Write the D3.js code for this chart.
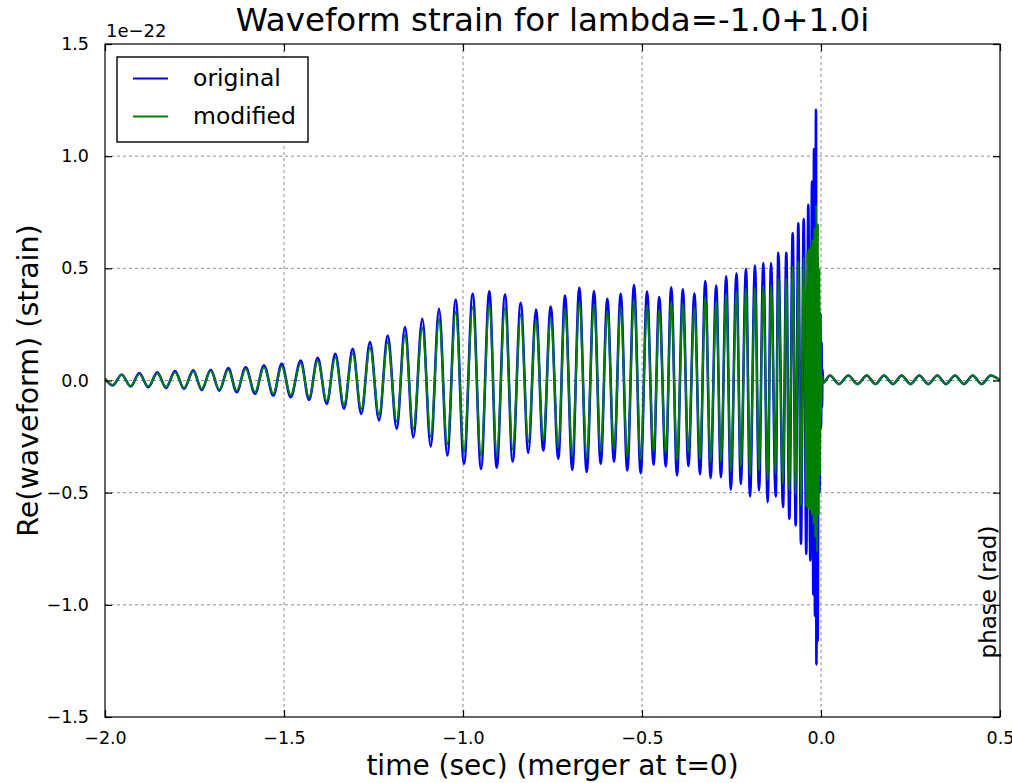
<!DOCTYPE html>
<html>
<head>
<meta charset="utf-8">
<script src="https://cdn.jsdelivr.net/npm/d3@7"></script>
<style>
  body { margin: 0; background: #fff; }
  text { font-family: "DejaVu Sans", sans-serif; fill: #000; }
</style>
</head>
<body>
<svg id="chart" width="1012" height="783"></svg>
<script>
// Strain extrema (units of 1e-22) against time in seconds, merger at t = 0.
// Inspiral: shared extremum times for both waveforms.
const inspiralTimes = [
  -2.0000,-1.9785,-1.9534,-1.9282,-1.9042,-1.8790,-1.8539,-1.8296,-1.8045,-1.7793,
  -1.7534,-1.7299,-1.7047,-1.6807,-1.6556,-1.6321,-1.6070,-1.5810,-1.5559,-1.5299,
  -1.5064,-1.4813,-1.4534,-1.4302,-1.4059,-1.3807,-1.3567,-1.3324,-1.3081,-1.2841,
  -1.2598,-1.2346,-1.2103,-1.1852,-1.1620,-1.1388,-1.1137,-1.0902,-1.0670,-1.0439,
  -1.0204,-0.9972,-0.9729,-0.9497,-0.9265,-0.9059,-0.8827,-0.8612,-0.8388,-0.8176,
  -0.7961,-0.7757,-0.7550,-0.7338,-0.7151,-0.6947,-0.6751,-0.6545,-0.6341,-0.6154,
  -0.5969,-0.5782,-0.5595,-0.5411,-0.5223,-0.5036,-0.4860,-0.4676,-0.4520,-0.4335,
  -0.4184,-0.4022,-0.3860,-0.3704,-0.3536,-0.3380,-0.3232,-0.3084,-0.2927,-0.2796,
  -0.2648,-0.2520,-0.2360,-0.2240,-0.2095,-0.1983,-0.1844,-0.1732,-0.1612,-0.1489,
  -0.1397,-0.1265,-0.1193,-0.1061,-0.0969,-0.0885,-0.0791,-0.0707,-0.0634,-0.0559,
  -0.0483
];
const inspiralOriginal = [
  0.008,-0.022,0.027,-0.027,0.033,-0.030,0.036,-0.033,0.042,-0.037,
  0.045,-0.042,0.048,-0.045,0.055,-0.052,0.059,-0.059,0.067,-0.067,
  0.074,-0.074,0.089,-0.086,0.101,-0.104,0.119,-0.126,0.141,-0.149,
  0.171,-0.178,0.200,-0.215,0.238,-0.253,0.275,-0.294,0.320,-0.334,
  0.360,-0.371,0.386,-0.394,0.398,-0.389,0.383,-0.361,0.346,-0.322,
  0.316,-0.312,0.330,-0.349,0.379,-0.398,0.413,-0.408,0.398,-0.371,
  0.364,-0.361,0.386,-0.401,0.426,-0.413,0.396,-0.375,0.372,-0.383,
  0.416,-0.423,0.407,-0.381,0.388,-0.418,0.443,-0.434,0.423,-0.431,
  0.464,-0.486,0.478,-0.461,0.498,-0.517,0.512,-0.490,0.523,-0.542,
  0.524,-0.517,0.569,-0.564,0.569,-0.616,0.656,-0.646,0.701,-0.728,
  0.720
];
const inspiralModified = [
  0.007,-0.019,0.024,-0.024,0.029,-0.026,0.032,-0.029,0.037,-0.033,
  0.040,-0.037,0.042,-0.040,0.048,-0.046,0.052,-0.052,0.059,-0.059,
  0.065,-0.065,0.077,-0.075,0.087,-0.090,0.102,-0.108,0.120,-0.127,
  0.146,-0.152,0.170,-0.183,0.202,-0.215,0.234,-0.250,0.272,-0.284,
  0.305,-0.315,0.328,-0.335,0.338,-0.330,0.325,-0.307,0.294,-0.274,
  0.268,-0.265,0.280,-0.296,0.322,-0.338,0.350,-0.346,0.338,-0.315,
  0.309,-0.306,0.327,-0.340,0.361,-0.350,0.335,-0.317,0.314,-0.324,
  0.351,-0.357,0.343,-0.321,0.326,-0.351,0.372,-0.364,0.354,-0.360,
  0.387,-0.405,0.397,-0.383,0.410,-0.423,0.416,-0.401,0.420,-0.443,
  0.426,-0.416,0.453,-0.460,0.456,-0.490,0.509,-0.505,0.535,-0.557,
  0.550
];

// Merger: each waveform has its own extrema.
const mergerTimesOriginal = [-0.0411,-0.0355,-0.0299,-0.0251,-0.0215,-0.0196,-0.0168,-0.0140,-0.0128,-0.0112,
  -0.0092,-0.0067,-0.0042,-0.0020,0.0000,0.0014,0.0028,0.0042,0.0061];
const mergerOriginal = [-0.773,0.783,-0.802,0.887,-0.954,1.033,-1.050,1.208,-1.266,0.550,
  -1.162,0.450,-0.500,0.300,-0.210,0.170,-0.120,0.050,-0.010];
const mergerTimesModified = [-0.0411,-0.0385,-0.0360,-0.0335,-0.0310,-0.0285,-0.0260,-0.0235,-0.0209,-0.0184,
  -0.0159,-0.0134,-0.0109,-0.0084,-0.0061,-0.0042,-0.0025,-0.0011,0.0006,0.0028,0.0061];
const mergerModified = [-0.564,0.575,-0.572,0.590,-0.579,0.605,-0.600,0.631,-0.640,0.680,
  -0.700,0.783,-0.765,0.700,-0.600,0.500,-0.420,0.300,-0.150,0.020,-0.010];

// Post-merger tail, common to both waveforms.
const ringdownTimes = [0.0251,0.0503,0.0763,0.1020,0.1277,0.1522,0.1760,0.2011,0.2254,0.2500,
  0.2746,0.2997,0.3249,0.3492,0.3743,0.3994,0.4237,0.4489,0.4740,0.5000];
const ringdownValues = [0.022,-0.016,0.022,-0.016,0.022,-0.016,0.022,-0.016,0.022,-0.016,
  0.022,-0.016,0.022,-0.016,0.022,-0.016,0.022,-0.016,0.022,0.000];

const xTicks = [-2.0,-1.5,-1.0,-0.5,0.0,0.5];
const yTicks = [-1.5,-1.0,-0.5,0.0,0.5,1.0,1.5];
const seriesNames = ["original","modified"];
const seriesColors = ["#0000ff","#008000"];

const titleText = "Waveform strain for lambda=-1.0+1.0i";
const xLabelText = "time (sec) (merger at t=0)";
const yLabelText = "Re(waveform) (strain)";
const rightLabelText = "phase (rad)";
const offsetText = "1e\u221222";

const zip = (ts, vs) => ts.map((t, i) => [t, vs[i]]);
const originalSeries = zip(inspiralTimes, inspiralOriginal)
  .concat(zip(mergerTimesOriginal, mergerOriginal))
  .concat(zip(ringdownTimes, ringdownValues));
const modifiedSeries = zip(inspiralTimes, inspiralModified)
  .concat(zip(mergerTimesModified, mergerModified))
  .concat(zip(ringdownTimes, ringdownValues));
const allSeries = [originalSeries, modifiedSeries];

const W = 1012, H = 783;
const plot = { left: 105, right: 1000, top: 44, bottom: 717 };

const svg = d3.select("#chart");
svg.append("rect").attr("width", W).attr("height", H).attr("fill", "#fff");

const x = d3.scaleLinear().domain([-2.0, 0.5]).range([plot.left, plot.right]);
const y = d3.scaleLinear().domain([-1.5, 1.5]).range([plot.bottom, plot.top]);
const fmt = v => d3.format(".1f")(v).replace("-", "\u2212");

// grid
const grid = svg.append("g").attr("stroke", "#8c8c8c").attr("stroke-width", 1)
  .attr("stroke-dasharray", "3,3");
grid.selectAll("line.gx").data(xTicks.slice(1, -1)).join("line")
  .attr("x1", d => x(d)).attr("x2", d => x(d))
  .attr("y1", plot.top).attr("y2", plot.bottom);
grid.selectAll("line.gy").data(yTicks.slice(1, -1)).join("line")
  .attr("y1", d => y(d)).attr("y2", d => y(d))
  .attr("x1", plot.left).attr("x2", plot.right);

// curves
svg.append("defs").append("clipPath").attr("id", "plotClip")
  .append("rect").attr("x", plot.left).attr("y", plot.top)
  .attr("width", plot.right - plot.left).attr("height", plot.bottom - plot.top);

const line = d3.line().x(d => x(d[0])).y(d => y(d[1])).curve(d3.curveMonotoneX);
const widths = [2.6, 2.0];
svg.append("g").attr("clip-path", "url(#plotClip)")
  .selectAll("path").data(allSeries).join("path")
  .attr("d", line)
  .attr("fill", "none")
  .attr("stroke", (d, i) => seriesColors[i])
  .attr("stroke-width", (d, i) => widths[i])
  .attr("stroke-linejoin", "round");

// frame
svg.append("rect").attr("x", plot.left).attr("y", plot.top)
  .attr("width", plot.right - plot.left).attr("height", plot.bottom - plot.top)
  .attr("fill", "none").attr("stroke", "#000").attr("stroke-width", 1.2);

// axes with inward ticks on all four sides
const tickLen = 7;
const xBottom = d3.axisBottom(x).tickValues(xTicks).tickFormat(fmt).tickSizeInner(-tickLen).tickSizeOuter(0).tickPadding(tickLen + 8);
const xTop = d3.axisTop(x).tickValues(xTicks).tickFormat("").tickSizeInner(-tickLen).tickSizeOuter(0);
const yLeft = d3.axisLeft(y).tickValues(yTicks).tickFormat(fmt).tickSizeInner(-tickLen).tickSizeOuter(0).tickPadding(tickLen + 9);
const yRight = d3.axisRight(y).tickValues(yTicks).tickFormat("").tickSizeInner(-tickLen).tickSizeOuter(0);

function styleAxis(g) {
  g.select(".domain").remove();
  g.selectAll(".tick line").attr("stroke", "#000").attr("stroke-width", 1.2);
  g.selectAll(".tick text").attr("font-size", 17.5).attr("fill", "#222")
    .attr("font-family", "DejaVu Sans, sans-serif");
}
svg.append("g").attr("transform", `translate(0,${plot.bottom})`).call(xBottom).call(styleAxis);
svg.append("g").attr("transform", `translate(0,${plot.top})`).call(xTop).call(styleAxis);
svg.append("g").attr("transform", `translate(${plot.left},0)`).call(yLeft).call(styleAxis);
svg.append("g").attr("transform", `translate(${plot.right},0)`).call(yRight).call(styleAxis);

// texts
svg.append("text").attr("x", (plot.left + plot.right) / 2).attr("y", 31)
  .attr("text-anchor", "middle").attr("font-size", 32.5).attr("fill", "#111").text(titleText);
svg.append("text").attr("x", (plot.left + plot.right) / 2).attr("y", 775)
  .attr("text-anchor", "middle").attr("font-size", 28).attr("fill", "#111").text(xLabelText);
svg.append("text").attr("transform", `translate(38,${(plot.top + plot.bottom) / 2}) rotate(-90)`)
  .attr("text-anchor", "middle").attr("font-size", 28.5).attr("fill", "#111").text(yLabelText);
svg.append("text").attr("transform", `translate(996,592) rotate(-90)`)
  .attr("text-anchor", "middle").attr("font-size", 23).attr("fill", "#111").text(rightLabelText);
svg.append("text").attr("x", 106).attr("y", 37).attr("font-size", 18).attr("fill", "#222").text(offsetText);

// legend
const legend = svg.append("g");
legend.append("rect").attr("x", 117).attr("y", 57).attr("width", 191).attr("height", 85)
  .attr("fill", "#fff").attr("stroke", "#000").attr("stroke-width", 1.4);
const rows = legend.selectAll("g.row").data(seriesNames).join("g")
  .attr("transform", (d, i) => `translate(0,${78.5 + i * 38})`);
rows.append("line").attr("x1", 133).attr("x2", 168).attr("y1", 0).attr("y2", 0)
  .attr("stroke", (d, i) => seriesColors[i]).attr("stroke-width", 1.8);
rows.append("text").attr("x", 193).attr("y", 7.5).attr("font-size", 23.5).attr("fill", "#111").text(d => d);
</script>
</body>
</html>
